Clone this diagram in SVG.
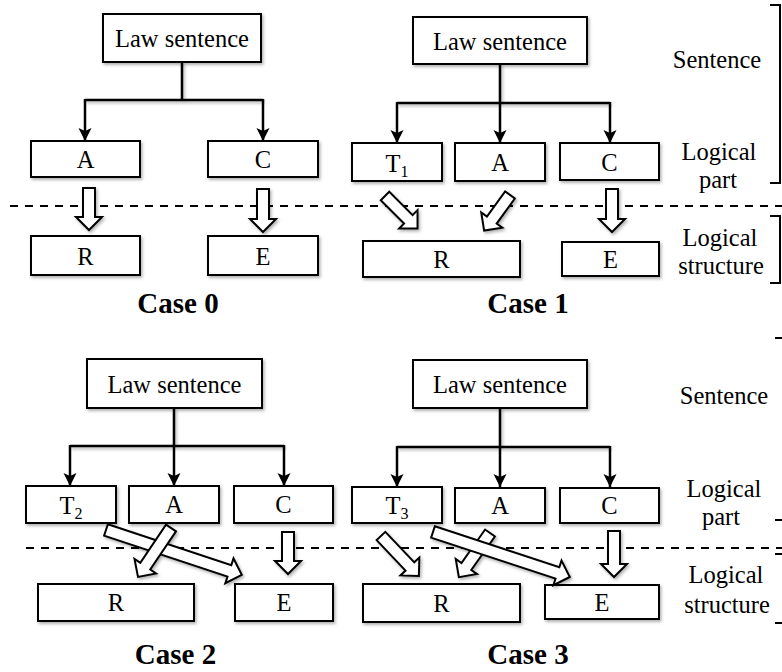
<svg xmlns="http://www.w3.org/2000/svg" width="782" height="672" viewBox="0 0 782 672">
  <defs>
    <filter id="shadow" x="-20%" y="-20%" width="140%" height="160%">
      <feDropShadow dx="1.5" dy="2" stdDeviation="1.5" flood-color="#000" flood-opacity="0.3"/>
    </filter>
    <marker id="head" markerUnits="userSpaceOnUse" markerWidth="14" markerHeight="14" viewBox="0 0 14 14" refX="13" refY="7" orient="auto">
      <path d="M0,0.5 L13,7 L0,13.5 L3,7 Z" fill="#000"/>
    </marker>
  </defs>
  <style>
    .box { fill: #fff; stroke: #000; stroke-width: 2; filter: url(#shadow); }
    .t { font-family: "Liberation Serif", "Times New Roman", serif; font-size: 24.5px; fill: #000; text-anchor: middle; }
    .sub { font-size: 16px; }
    .case { font-family: "Liberation Serif", "Times New Roman", serif; font-size: 29px; font-weight: bold; fill: #000; text-anchor: middle; }
    .tree { fill: none; stroke: #000; stroke-width: 2.5; filter: url(#shadow); }
    .arr { fill: none; stroke: #000; stroke-width: 2.5; marker-end: url(#head); }
    .hollow { fill: #fff; stroke: #000; stroke-width: 2; stroke-linejoin: miter; }
    .dash { fill: none; stroke: #000; stroke-width: 2; stroke-dasharray: 8 7; }
    .brace { fill: none; stroke: #000; stroke-width: 2; }
  </style>

  <!-- ===== Case 0 ===== -->
  <g id="c0-law"><rect class="box" x="103" y="14" width="158" height="48"/><text class="t" x="182" y="47">Law sentence</text></g>
  <g id="c0-A"><rect class="box" x="31" y="141" width="109" height="36"/><text class="t" x="85.5" y="168">A</text></g>
  <g id="c0-C"><rect class="box" x="208" y="141" width="110" height="36"/><text class="t" x="263" y="168">C</text></g>
  <g id="c0-R"><rect class="box" x="31" y="236" width="109" height="39"/><text class="t" x="85.5" y="265">R</text></g>
  <g id="c0-E"><rect class="box" x="208" y="236" width="110" height="39"/><text class="t" x="263" y="265">E</text></g>
  <text class="case" x="178" y="313">Case 0</text>

  <!-- ===== Case 1 ===== -->
  <g id="c1-law"><rect class="box" x="413" y="17" width="174" height="47"/><text class="t" x="500" y="50">Law sentence</text></g>
  <g id="c1-T1"><rect class="box" x="352" y="143" width="90" height="38"/><text class="t" x="397" y="172">T<tspan class="sub" dy="5">1</tspan></text></g>
  <g id="c1-A"><rect class="box" x="455" y="143" width="90" height="38"/><text class="t" x="500" y="171">A</text></g>
  <g id="c1-C"><rect class="box" x="560" y="143" width="99" height="37"/><text class="t" x="609.5" y="171">C</text></g>
  <g id="c1-R"><rect class="box" x="363" y="241" width="157" height="36"/><text class="t" x="441.5" y="268">R</text></g>
  <g id="c1-E"><rect class="box" x="562" y="242" width="97" height="34"/><text class="t" x="610.5" y="268">E</text></g>
  <text class="case" x="528" y="313">Case 1</text>

  <!-- ===== Case 2 ===== -->
  <g id="c2-law"><rect class="box" x="87" y="359" width="175" height="49"/><text class="t" x="174.5" y="393">Law sentence</text></g>
  <g id="c2-T2"><rect class="box" x="26" y="486" width="90" height="37"/><text class="t" x="71" y="514">T<tspan class="sub" dy="5">2</tspan></text></g>
  <g id="c2-A"><rect class="box" x="129" y="486" width="90" height="37"/><text class="t" x="174" y="513">A</text></g>
  <g id="c2-C"><rect class="box" x="234" y="486" width="99" height="37"/><text class="t" x="283.5" y="513">C</text></g>
  <g id="c2-R"><rect class="box" x="38" y="584" width="156" height="37"/><text class="t" x="116" y="611">R</text></g>
  <g id="c2-E"><rect class="box" x="235" y="584" width="98" height="37"/><text class="t" x="284" y="611">E</text></g>
  <text class="case" x="175.5" y="664">Case 2</text>

  <!-- ===== Case 3 ===== -->
  <g id="c3-law"><rect class="box" x="413" y="360" width="174" height="48"/><text class="t" x="500" y="393">Law sentence</text></g>
  <g id="c3-T3"><rect class="box" x="352" y="487" width="90" height="36"/><text class="t" x="397" y="514">T<tspan class="sub" dy="5">3</tspan></text></g>
  <g id="c3-A"><rect class="box" x="455" y="488" width="90" height="35"/><text class="t" x="500" y="514">A</text></g>
  <g id="c3-C"><rect class="box" x="560" y="488" width="99" height="35"/><text class="t" x="609.5" y="514">C</text></g>
  <g id="c3-R"><rect class="box" x="363" y="584" width="157" height="38"/><text class="t" x="441.5" y="612">R</text></g>
  <g id="c3-E"><rect class="box" x="545" y="585" width="114" height="34"/><text class="t" x="602" y="611">E</text></g>
  <text class="case" x="528" y="664">Case 3</text>

  <!-- ===== Level labels and brackets ===== -->
  <g id="labels-top">
    <text class="t" x="717" y="68">Sentence</text>
    <text class="t" x="719" y="160">Logical</text>
    <text class="t" x="718" y="188">part</text>
    <text class="t" x="720" y="246">Logical</text>
    <text class="t" x="721" y="274">structure</text>
    <path class="brace" d="M770,5 H780 V183 H770"/>
    <path class="brace" d="M770,216 H780 V283 H770"/>
  </g>
  <g id="labels-bottom">
    <text class="t" x="724" y="404">Sentence</text>
    <text class="t" x="724" y="497">Logical</text>
    <text class="t" x="721" y="525">part</text>
    <text class="t" x="726" y="583">Logical</text>
    <text class="t" x="727" y="613">structure</text>
    <path class="brace" d="M775,338 H785 V520 H775"/>
    <path class="brace" d="M775,554 H785 V623 H775"/>
  </g>

  <!-- ===== Connectors ===== -->
  <g id="connectors">
    <!-- layer separators -->
    <line class="dash" x1="10" y1="206" x2="782" y2="206"/>
    <line class="dash" x1="26" y1="548" x2="782" y2="548"/>

    <!-- sentence to logical parts -->
    <path class="tree" d="M182,62 V100 M85,100 H263"/>
    <path class="arr" d="M85,99 V141"/>
    <path class="arr" d="M263,99 V141"/>

    <path class="tree" d="M500,64 V103 M397,103 H610"/>
    <path class="arr" d="M397,102 V143"/>
    <path class="arr" d="M500,102 V143"/>
    <path class="arr" d="M610,102 V143"/>

    <path class="tree" d="M174,408 V446 M70,446 H284"/>
    <path class="arr" d="M70,445 V486"/>
    <path class="arr" d="M174,445 V486"/>
    <path class="arr" d="M284,445 V486"/>

    <path class="tree" d="M500,408 V447 M397,447 H610"/>
    <path class="arr" d="M397,446 V487"/>
    <path class="arr" d="M500,446 V487"/>
    <path class="arr" d="M610,446 V487"/>

    <!-- logical parts to logical structure (hollow block arrows) -->
    <g filter="url(#shadow)">
      <polygon class="hollow" transform="translate(89,188) rotate(90)" points="0,-6 29,-6 29,-13 42,0 29,13 29,6 0,6"/>
      <polygon class="hollow" transform="translate(263,189) rotate(90)" points="0,-6 30,-6 30,-13 43,0 30,13 30,6 0,6"/>

      <polygon class="hollow" transform="translate(385,196) rotate(45)" points="0,-6 33,-6 33,-13 46,0 33,13 33,6 0,6"/>
      <polygon class="hollow" transform="translate(510,195) rotate(126)" points="0,-6 31,-6 31,-13 44,0 31,13 31,6 0,6"/>
      <polygon class="hollow" transform="translate(612,189) rotate(90)" points="0,-6 30,-6 30,-13 43,0 30,13 30,6 0,6"/>

      <polygon class="hollow" transform="translate(106,530) rotate(18.3)" points="0,-6 130,-6 130,-13 143,0 130,13 130,6 0,6"/>
      <polygon class="hollow" transform="translate(171,528) rotate(124)" points="0,-6 46,-6 46,-13 59,0 46,13 46,6 0,6"/>
      <polygon class="hollow" transform="translate(288,532) rotate(90)" points="0,-6 29,-6 29,-13 42,0 29,13 29,6 0,6"/>

      <polygon class="hollow" transform="translate(381,536) rotate(46.5)" points="0,-6 42,-6 42,-13 55,0 42,13 42,6 0,6"/>
      <polygon class="hollow" transform="translate(490,533) rotate(125.2)" points="0,-6 41,-6 41,-13 54,0 41,13 41,6 0,6"/>
      <polygon class="hollow" transform="translate(433,532) rotate(18.2)" points="0,-6 131,-6 131,-13 144,0 131,13 131,6 0,6"/>
      <polygon class="hollow" transform="translate(614,531) rotate(90)" points="0,-6 33,-6 33,-13 46,0 33,13 33,6 0,6"/>
    </g>
  </g>
</svg>
